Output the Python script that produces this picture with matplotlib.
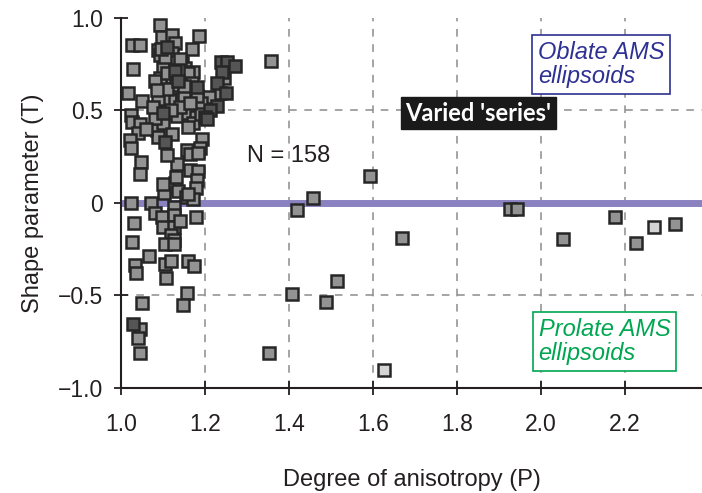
import matplotlib.pyplot as plt
import numpy as np

plt.rcParams['font.family'] = ['Liberation Sans', 'DejaVu Sans']

# degree of anisotropy (P) and shape parameter (T), medium grey squares
p_gray = [1.093, 1.097, 1.121, 1.186, 1.025, 1.044, 1.089, 1.129, 1.168, 1.093,
          1.121, 1.028, 1.125, 1.144, 1.101, 1.152, 1.172, 1.121, 1.093, 1.155,
          1.164, 1.144, 1.133, 1.121, 1.093, 1.117, 1.144, 1.164, 1.101, 1.089,
          1.017, 1.049, 1.244, 1.236, 1.210, 1.356, 1.023, 1.025, 1.045, 1.041,
          1.021, 1.023, 1.085, 1.101, 1.133, 1.160, 1.179, 1.172, 1.160, 1.089,
          1.121, 1.192, 1.188, 1.156, 1.164, 1.184, 1.047, 1.045, 1.133, 1.164,
          1.184, 1.182, 1.179, 1.129, 1.113, 1.103, 1.136, 1.155, 1.172, 1.023,
          1.071,
          1.125, 1.081, 1.097, 1.125, 1.179, 1.031, 1.101, 1.125, 1.118, 1.125,
          1.025, 1.105, 1.125, 1.067, 1.033, 1.035, 1.105, 1.118, 1.160, 1.174,
          1.107, 1.156, 1.049, 1.148, 1.044, 1.041, 1.044,
          1.593, 1.456, 1.420, 1.925, 1.942, 2.176, 1.668, 2.052, 2.226, 2.319,
          1.514, 1.406, 1.488, 1.352,
          1.105, 1.140, 1.160, 1.080, 1.130, 1.170, 1.110, 1.150, 1.190, 1.140,
          1.120, 1.080, 1.180, 1.095, 1.135, 1.190, 1.060, 1.110, 1.130, 1.100,
          1.160, 1.140, 1.110, 1.075, 1.165, 1.150, 1.085]
t_gray = [0.962, 0.899, 0.908, 0.903, 0.854, 0.854, 0.827, 0.863, 0.831, 0.800,
          0.809, 0.723, 0.764, 0.755, 0.728, 0.728, 0.710, 0.683, 0.674, 0.669,
          0.620, 0.611, 0.607, 0.596, 0.593, 0.557, 0.561, 0.566, 0.557, 0.561,
          0.593, 0.553, 0.674, 0.593, 0.575, 0.769, 0.476, 0.440, 0.427, 0.377,
          0.341, 0.296, 0.395, 0.434, 0.470, 0.488, 0.463, 0.431, 0.412, 0.358,
          0.373, 0.344, 0.296, 0.286, 0.265, 0.272, 0.223, 0.157, 0.211, 0.178,
          0.175, 0.124, 0.079, 0.110, 0.088, 0.056, 0.067, 0.031, 0.020, 0.000,
          0.002,
          -0.023, -0.052, -0.077, -0.065, -0.077, -0.110, -0.131, -0.131, -0.173, -0.200,
          -0.209, -0.222, -0.222, -0.286, -0.335, -0.380, -0.330, -0.312, -0.312, -0.339,
          -0.407, -0.488, -0.542, -0.551, -0.683, -0.728, -0.812,
          0.146, 0.025, -0.038, -0.032, -0.032, -0.077, -0.187, -0.193, -0.218, -0.115,
          -0.420, -0.492, -0.537, -0.813,
          0.790, 0.780, 0.700, 0.660, 0.640, 0.650, 0.615, 0.580, 0.540, 0.520,
          0.500, 0.460, 0.580, 0.830, 0.720, 0.480, 0.400, 0.260, 0.140, 0.100,
          0.050, -0.100, 0.700, 0.520, 0.540, 0.630, 0.610]

# dark grey squares
p_dark = [1.110, 1.129, 1.136, 1.180, 1.237, 1.252, 1.271, 1.240, 1.229, 1.250,
          1.228, 1.212, 1.200, 1.204, 1.101, 1.105, 1.028]
t_dark = [0.842, 0.714, 0.659, 0.629, 0.764, 0.764, 0.742, 0.710, 0.650, 0.593,
          0.524, 0.503, 0.467, 0.452, 0.485, 0.331, -0.654]

# light grey squares
p_light = [2.268, 1.626]
t_light = [-0.131, -0.903]

xticks = [1.0, 1.2, 1.4, 1.6, 1.8, 2.0, 2.2]
yticks = [-1.0, -0.5, 0, 0.5, 1.0]
ytick_labels = ['\u22121.0', '\u22120.5', '0', '0.5', '1.0']

fig = plt.figure(figsize=(7.02, 4.93), dpi=100)
ax = fig.add_axes([0.1724, 0.213, 0.8276, 0.7505])

ax.set_xlim(1.0, 2.383)
ax.set_ylim(-1.0, 1.0)

# grid
for x in xticks[1:]:
    ax.axvline(x, color='#8c8c8c', lw=1.1, dashes=(5, 5), zorder=1)
for y in [0.5, -0.5]:
    ax.axhline(y, color='#8c8c8c', lw=1.1, dashes=(5, 5), zorder=1)
ax.axhline(0, color='#8a82c0', lw=5, zorder=2)

mk = dict(marker='s', ls='none', ms=8.2, mew=1.8, mec='#262626', zorder=3)
ax.plot(p_gray, t_gray, mfc='#939393', **mk)
ax.plot(p_dark, t_dark, mfc='#555555', **mk)
ax.plot(p_light, t_light, mfc='#d4d4d4', **mk)

for s in ['top', 'right']:
    ax.spines[s].set_visible(False)
for s in ['left', 'bottom']:
    ax.spines[s].set_color('#231f20')
    ax.spines[s].set_linewidth(1.5)

ax.set_xticks(xticks)
ax.set_xticklabels(['%.1f' % v for v in xticks])
ax.set_yticks(yticks)
ax.set_yticklabels(ytick_labels)
ax.tick_params(direction='inout', length=10, width=1.3, color='#231f20',
               labelsize=16.5, labelcolor='#231f20')
ax.tick_params(axis='x', pad=13)
ax.tick_params(axis='y', pad=8)

ax.set_xlabel('Degree of anisotropy (P)', fontsize=17, color='#231f20', labelpad=24)
ax.set_ylabel('Shape parameter (T)', fontsize=17, color='#231f20', labelpad=10)

ax.text(1.30, 0.222, 'N = 158', fontsize=17, color='#231f20', va='baseline')

ax.text(2.143, 0.749, 'Oblate AMS\nellipsoids', fontsize=17, style='italic',
        color='#2e3192', ha='center', va='center', ma='left', linespacing=1.1,
        bbox=dict(boxstyle='square,pad=0.25', fc='white', ec='#2e3192', lw=1.2),
        zorder=4)
ax.text(2.151, -0.749, 'Prolate AMS\nellipsoids', fontsize=17, style='italic',
        color='#00a651', ha='center', va='center', ma='left', linespacing=1.1,
        bbox=dict(boxstyle='square,pad=0.25', fc='white', ec='#00a651', lw=1.2),
        zorder=4)
ax.text(1.851, 0.486, "Varied 'series'", fontsize=17, fontweight='bold',
        family=['Lato', 'DejaVu Sans'], color='white', ha='center', va='center',
        bbox=dict(boxstyle='square,pad=0.2', fc='#1a1a1a', ec='#1a1a1a'),
        zorder=4)

plt.savefig('out.png', dpi=100)
